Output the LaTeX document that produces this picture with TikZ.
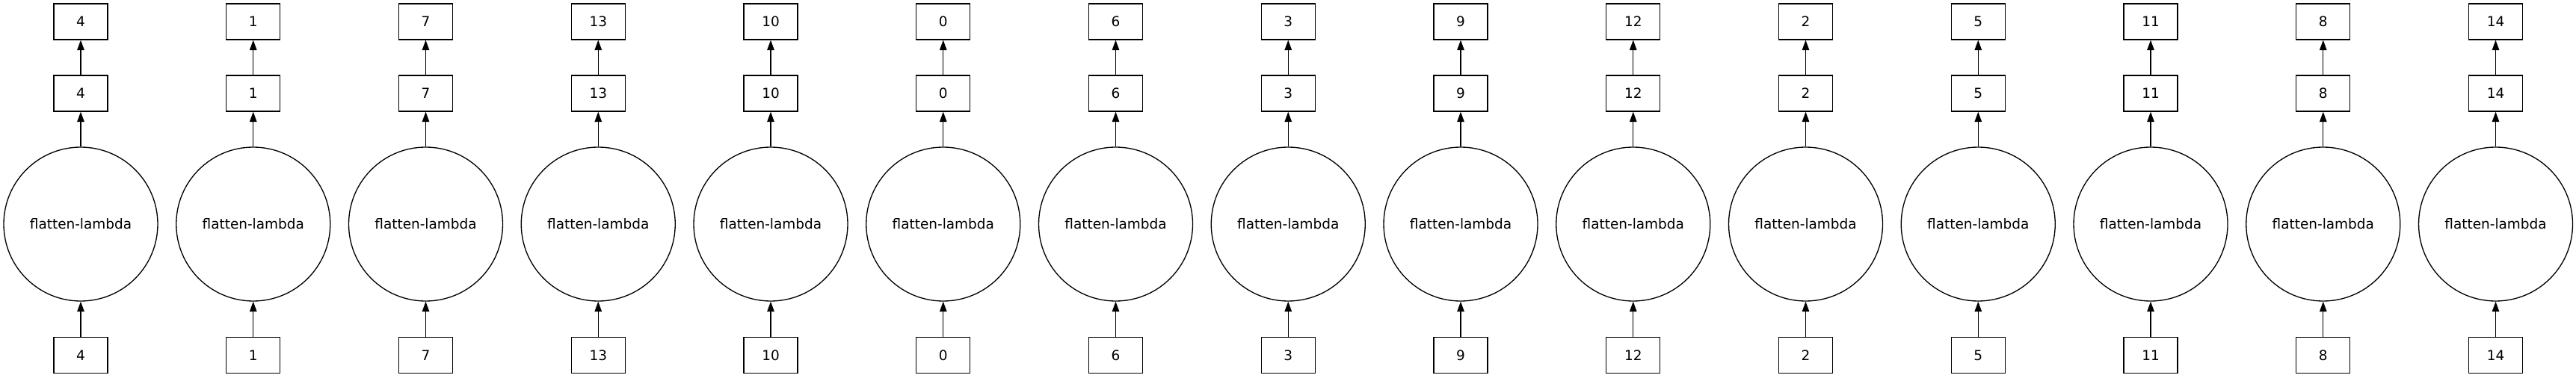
\documentclass[tikz,border=0pt]{standalone}
\usepackage{fontspec}
\setmainfont{DejaVu Sans}
\usepackage{tikz}
\usetikzlibrary{positioning, arrows.meta, shapes, calc}

\begin{document}
\begin{tikzpicture}[
        value/.style={rectangle, draw, line width=0.75pt, minimum width=1.44cm, minimum height=0.96cm, inner sep=0pt, font=\fontsize{10.5}{12}\selectfont},
        func/.style={circle, draw, line width=0.75pt, minimum size=4.12cm, inner sep=0pt, font=\fontsize{10.5}{12}\selectfont},
        flow/.style={-{Triangle[length=0.27cm, width=0.19cm]}, line width=0.75pt}
    ]
    \useasboundingbox (0,0) rectangle (68.92,10.1);

    \foreach \i/\v in {0/4, 1/1, 2/7, 3/13, 4/10, 5/0, 6/6, 7/3, 8/9, 9/12, 10/2, 11/5, 12/11, 13/8, 14/14} {
        \node[value] (in\i) at (2.16 + 4.615*\i, 0.59) {\v};
        \node[func] (fn\i) at (2.16 + 4.615*\i, 4.1) {flatten-lambda};
        \node[value] (out\i) at (2.16 + 4.615*\i, 7.6) {\v};
        \node[value] (res\i) at (2.16 + 4.615*\i, 9.52) {\v};

        \draw[flow] (in\i) -- (fn\i);
        \draw[flow] (fn\i) -- (out\i);
        \draw[flow] (out\i) -- (res\i);
    }
\end{tikzpicture}
\end{document}
